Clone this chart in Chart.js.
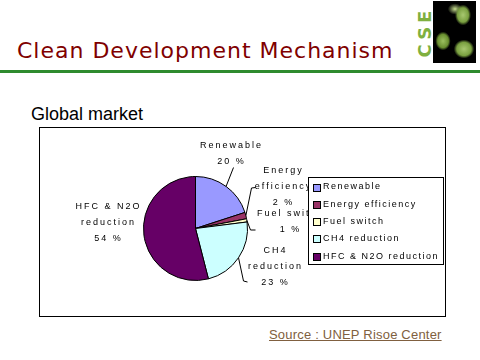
<!DOCTYPE html>
<html>
<head>
<meta charset="utf-8">
<script src="https://cdn.jsdelivr.net/npm/chart.js@4.4.1/dist/chart.umd.min.js"></script>
<style>
  html, body { margin: 0; padding: 0; background: #fff; width: 480px; height: 360px; overflow: hidden; }
  #title { position: absolute; left: 17px; top: 38px; font-family: "DejaVu Sans", Verdana, sans-serif; font-size: 22px; letter-spacing: 1px; color: #800000; white-space: nowrap; }
  #rule { position: absolute; left: 0; top: 70px; width: 480px; height: 3px; background: #2e8b2e; }
  #sub { position: absolute; left: 31px; top: 104px; font-family: "Liberation Sans", Arial, sans-serif; font-size: 18px; color: #000; }
  #box { position: absolute; left: 39px; top: 127px; width: 407px; height: 190px; border: 1px solid #000; box-sizing: border-box; }
  #src { position: absolute; left: 269px; top: 327px; font-family: "Liberation Sans", Arial, sans-serif; font-size: 13px; letter-spacing: 0.2px; color: #806040; text-decoration: underline; white-space: nowrap; }
  #logoText { position: absolute; left: 416px; top: 0px; width: 16px; height: 64px; }
  #logoText span { position: absolute; left: 50%; top: 50%; transform: translate(-50%, -50%) rotate(-90deg); font-family: "DejaVu Sans", Verdana, sans-serif; font-weight: bold; font-size: 18px; letter-spacing: 4px; color: #7fb040; white-space: nowrap; }
  #logoImg { position: absolute; left: 433px; top: 1px; width: 43px; height: 62px; background:
      radial-gradient(ellipse 10px 13px at 30px 14px, #a8c870 0%, #7aa040 55%, transparent 80%),
      radial-gradient(ellipse 9px 7px at 22px 8px, #c8e090 0%, transparent 80%),
      radial-gradient(ellipse 9px 11px at 10px 40px, #9cc060 0%, #6a9030 60%, transparent 85%),
      radial-gradient(ellipse 12px 11px at 31px 48px, #a8c870 0%, #7aa040 60%, transparent 85%),
      #000; }
</style>
</head>
<body>
<div id="title">Clean Development Mechanism</div>
<div id="logoText"><span>CSE</span></div>
<div id="logoImg"></div>
<div id="rule"></div>
<div id="sub">Global market</div>
<div id="box"><canvas id="c" width="405" height="188"></canvas></div>
<div id="src">Source : UNEP Risoe Center</div>
<script>
// ---- data ----
const categories = ["Renewable", "Energy efficiency", "Fuel switch", "CH4 reduction", "HFC & N2O reduction"];
const shares = [20, 2, 1, 23, 54];
const sliceLabelLines = [
  ["Renewable"],
  ["Energy", "efficiency"],
  ["Fuel switch"],
  ["CH4", "reduction"],
  ["HFC & N2O", "reduction"]
];
const sliceColors = ["#9999FF", "#993366", "#FFFFCC", "#CCFFFF", "#660066"];

// ---- label layout (offsets from pie centre, px) ----
const labelCentre = [[35, -75], [87, -42], [94, -7], [79, 38], [-88, -6]];
const lineGap = 16;
const leaderBends = [
  [[38, -61]],
  [[56, -40.5], [60, -41]],
  [[55, 1.5], [60, 1.5]],
  [[48, 52.5], [52, 53.5]],
  []
];

const labelPlugin = {
  id: 'sliceLabels',
  afterDatasetsDraw(chart) {
    const ctx = chart.ctx;
    const meta = chart.getDatasetMeta(0);
    ctx.save();
    ctx.font = '9px "Liberation Sans", Arial, sans-serif';
    if ('letterSpacing' in ctx) ctx.letterSpacing = '2px';
    ctx.fillStyle = '#000';
    ctx.textAlign = 'center';
    ctx.textBaseline = 'middle';
    meta.data.forEach((arc, i) => {
      const p = arc.getProps(['x', 'y', 'startAngle', 'endAngle', 'outerRadius'], true);
      const mid = (p.startAngle + p.endAngle) / 2;
      const ex = p.x + Math.cos(mid) * p.outerRadius;
      const ey = p.y + Math.sin(mid) * p.outerRadius;
      if (leaderBends[i].length) {
        ctx.strokeStyle = '#000';
        ctx.lineWidth = 1;
        ctx.beginPath();
        ctx.moveTo(ex, ey);
        leaderBends[i].forEach(b => ctx.lineTo(p.x + b[0], p.y + b[1]));
        ctx.stroke();
      }
      const lines = sliceLabelLines[i].concat([shares[i] + ' %']);
      const cx = p.x + labelCentre[i][0];
      const cy0 = p.y + labelCentre[i][1] - (lines.length - 1) * lineGap / 2;
      lines.forEach((t, k) => ctx.fillText(t, cx + 1, cy0 + k * lineGap));
    });
    ctx.restore();
  }
};

const legendPlugin = {
  id: 'boxLegend',
  afterDraw(chart) {
    const ctx = chart.ctx;
    const bx = 268, by = 49, bw = 135, bh = 87;
    const rowGap = 17.3;
    ctx.save();
    ctx.fillStyle = '#fff';
    ctx.fillRect(bx, by, bw, bh);
    ctx.strokeStyle = '#000';
    ctx.lineWidth = 1;
    ctx.strokeRect(bx + 0.5, by + 0.5, bw, bh);
    ctx.font = '9px "Liberation Sans", Arial, sans-serif';
    if ('letterSpacing' in ctx) ctx.letterSpacing = '1.5px';
    ctx.textAlign = 'left';
    ctx.textBaseline = 'middle';
    chart.data.labels.forEach((lab, i) => {
      const y = by + 10 + i * rowGap;
      ctx.fillStyle = chart.data.datasets[0].backgroundColor[i];
      ctx.fillRect(bx + 5.5, Math.round(y - 3.5) + 0.5, 7, 7);
      ctx.strokeStyle = '#000';
      ctx.strokeRect(bx + 5.5, Math.round(y - 3.5) + 0.5, 7, 7);
      ctx.fillStyle = '#000';
      ctx.fillText(lab, bx + 15, y);
    });
    ctx.restore();
  }
};

new Chart(document.getElementById('c'), {
  type: 'pie',
  data: {
    labels: categories,
    datasets: [{
      data: shares,
      backgroundColor: sliceColors,
      borderColor: '#000',
      borderWidth: 1
    }]
  },
  options: {
    responsive: false,
    animation: false,
    layout: { padding: { left: 103, right: 197, top: 48, bottom: 35 } },
    plugins: { legend: { display: false }, tooltip: { enabled: false } }
  },
  plugins: [labelPlugin, legendPlugin]
});
</script>
</body>
</html>
